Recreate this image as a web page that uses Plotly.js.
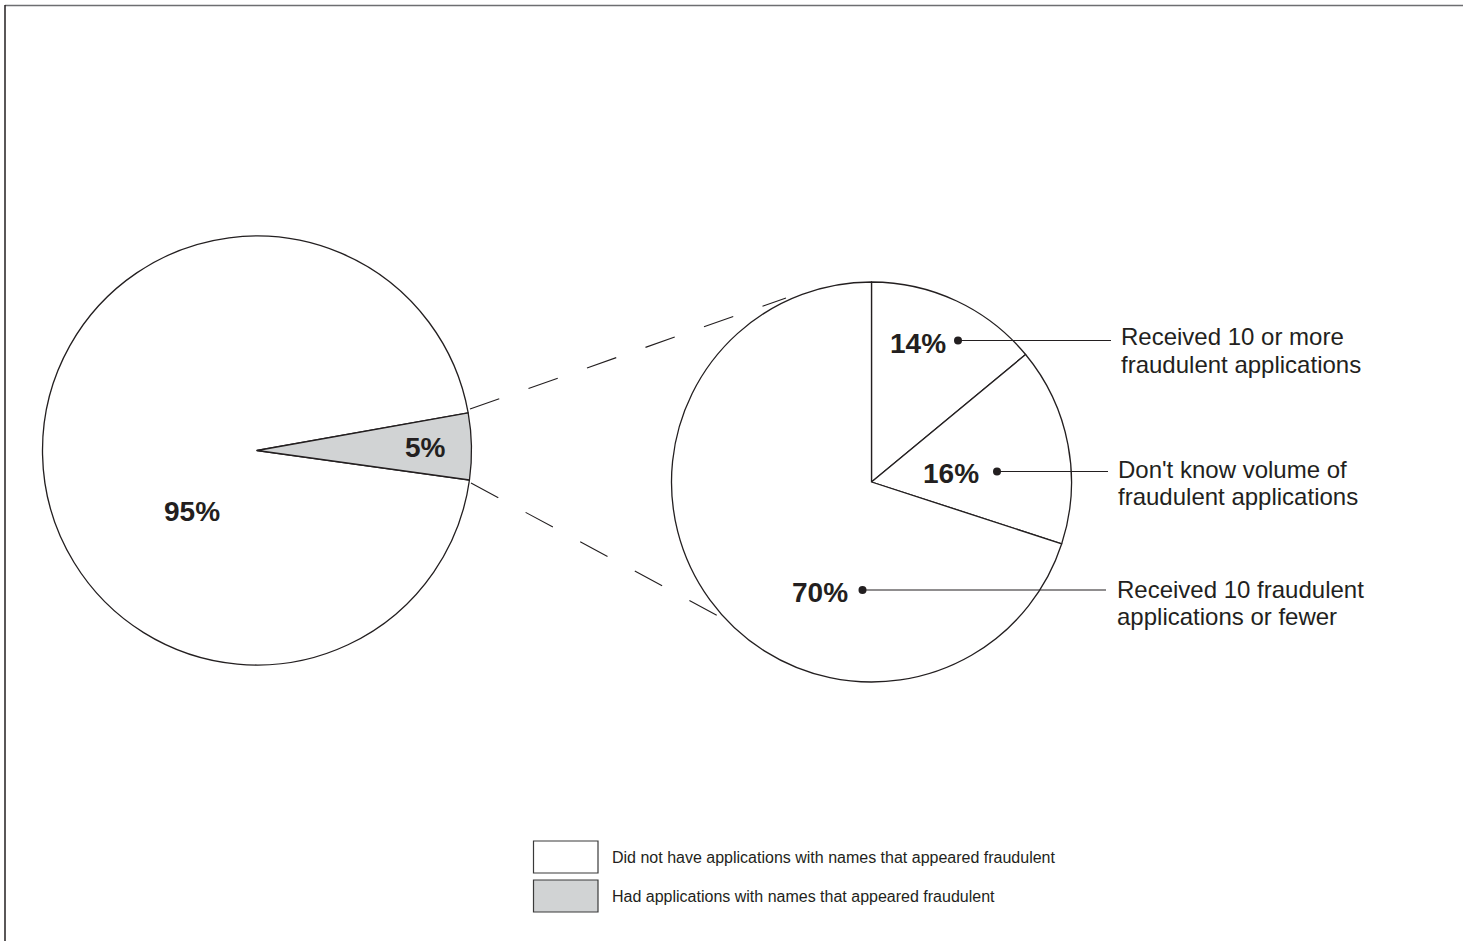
<!DOCTYPE html>
<html>
<head>
<meta charset="utf-8">
<script src="https://cdn.plot.ly/plotly-3.0.1.min.js"></script>
<style>
  html, body { margin: 0; padding: 0; background: #ffffff; }
  #chart { width: 1463px; height: 941px; }
</style>
</head>
<body>
<div id="chart"></div>
<script>
// ---- data ----
const overviewLabels = [
  'Did not have applications with names that appeared fraudulent',
  'Had applications with names that appeared fraudulent'
];
const overviewValues = [95, 5];
const overviewColors = ['#ffffff', '#d1d3d4'];

const breakdownLabels = [
  'Received 10 or more<br>fraudulent applications',
  "Don't know volume of<br>fraudulent applications",
  'Received 10 fraudulent<br>applications or fewer'
];
const breakdownValues = [14, 16, 70];

// ---- layout helpers (pixel -> paper) ----
const W = 1463, H = 941;
const X = px => px / W;
const Y = py => 1 - py / H;
const INK = '#231f20';
const FONT = '"Liberation Sans", Arial, Helvetica, sans-serif';

// pie geometry (layout)
const leftPie = { cx: 257, cy: 450.5, r: 214.5 };
const rightPie = { cx: 871.5, cy: 482, r: 200 };
function domainOf(p) {
  return { x: [X(p.cx - p.r), X(p.cx + p.r)], y: [Y(p.cy + p.r), Y(p.cy - p.r)] };
}

const traces = [
  {
    type: 'pie',
    values: overviewValues,
    labels: overviewLabels,
    sort: false,
    direction: 'clockwise',
    rotation: 97.9,
    domain: domainOf(leftPie),
    marker: { colors: overviewColors, line: { color: INK, width: 1.3 } },
    textinfo: 'none',
    hoverinfo: 'none',
    showlegend: false
  },
  {
    type: 'pie',
    values: breakdownValues,
    labels: breakdownLabels,
    sort: false,
    direction: 'clockwise',
    rotation: 0,
    domain: domainOf(rightPie),
    marker: { colors: breakdownValues.map(() => '#ffffff'), line: { color: INK, width: 1.3 } },
    textinfo: 'none',
    hoverinfo: 'none',
    showlegend: false
  }
];

const shapes = [];
const annotations = [];

// frame
shapes.push({ type: 'line', xref: 'paper', yref: 'paper', x0: X(5), x1: X(W), y0: Y(5.5), y1: Y(5.5), line: { color: '#6d6e71', width: 1.5 } });
shapes.push({ type: 'line', xref: 'paper', yref: 'paper', x0: X(5), x1: X(5), y0: Y(5), y1: Y(H), line: { color: INK, width: 1.5 } });

// dashed connectors
const connectors = [
  [[470, 409], [786, 298]],
  [[471, 483], [722, 618]]
];
connectors.forEach(c => {
  shapes.push({ type: 'line', xref: 'paper', yref: 'paper', x0: X(c[0][0]), y0: Y(c[0][1]), x1: X(c[1][0]), y1: Y(c[1][1]), line: { color: INK, width: 1.1, dash: '31px,31px' } });
});

// percentage labels
const pctStyle = { family: FONT, size: 28, color: INK, weight: 'bold' };
const overviewPctPos = [[192, 511], [425, 447.5]];
overviewValues.forEach((v, i) => {
  annotations.push({ xref: 'paper', yref: 'paper', x: X(overviewPctPos[i][0]), y: Y(overviewPctPos[i][1]), text: '<b>' + v + '%</b>', showarrow: false, xanchor: 'center', yanchor: 'middle', font: pctStyle });
});
const breakdownPctPos = [[917.5, 343], [951, 473], [819.5, 592]];
const calloutDot = [[958, 340.5], [997, 471.5], [862.5, 590]];
const calloutEnd = [1111, 1108, 1106];
const calloutTextX = [1119, 1116, 1115];
const calloutTextY = [337, 469, 589];
breakdownValues.forEach((v, i) => {
  annotations.push({ xref: 'paper', yref: 'paper', x: X(breakdownPctPos[i][0]), y: Y(breakdownPctPos[i][1]), text: '<b>' + v + '%</b>', showarrow: false, xanchor: 'center', yanchor: 'middle', font: pctStyle });
  const d = calloutDot[i];
  shapes.push({ type: 'circle', xref: 'paper', yref: 'paper', x0: X(d[0] - 4), x1: X(d[0] + 4), y0: Y(d[1] + 4), y1: Y(d[1] - 4), fillcolor: INK, line: { color: INK, width: 0 } });
  shapes.push({ type: 'line', xref: 'paper', yref: 'paper', x0: X(d[0]), x1: X(calloutEnd[i]), y0: Y(d[1]), y1: Y(d[1]), line: { color: INK, width: 1.2 } });
  breakdownLabels[i].split('<br>').forEach((line, k) => {
    annotations.push({ xref: 'paper', yref: 'paper', x: X(calloutTextX[i]), y: Y(calloutTextY[i] + k * 27.5), text: line, showarrow: false, xanchor: 'left', yanchor: 'middle', font: { family: FONT, size: 24, color: INK } });
  });
});

// custom legend
const legendBoxY = [841, 880];
overviewLabels.forEach((lab, i) => {
  shapes.push({ type: 'rect', xref: 'paper', yref: 'paper', x0: X(533.5), x1: X(598), y0: Y(legendBoxY[i] + 32), y1: Y(legendBoxY[i]), fillcolor: overviewColors[i], line: { color: '#3a3a3a', width: 1.2 } });
  annotations.push({ xref: 'paper', yref: 'paper', x: X(610), y: Y(legendBoxY[i] + 16.5), text: lab, showarrow: false, xanchor: 'left', yanchor: 'middle', font: { family: FONT, size: 16, color: INK } });
});

const layout = {
  width: W,
  height: H,
  autosize: false,
  margin: { l: 0, r: 0, t: 0, b: 0, pad: 0 },
  paper_bgcolor: '#ffffff',
  plot_bgcolor: '#ffffff',
  showlegend: false,
  shapes: shapes,
  annotations: annotations
};

Plotly.newPlot('chart', traces, layout, { displayModeBar: false, staticPlot: true });
</script>
</body>
</html>
